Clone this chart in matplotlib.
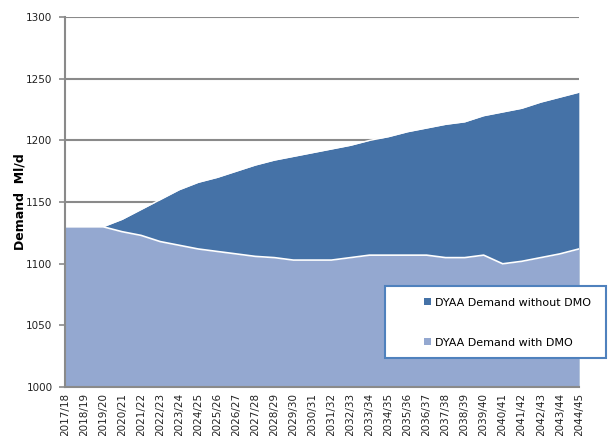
import matplotlib.pyplot as plt
import numpy as np
from matplotlib.patches import Patch, Rectangle

# years 2017/18 .. 2044/45
years = [f"{y}/{(y + 1) % 100:02d}" for y in range(2017, 2045)]

without_dmo = [1130, 1130, 1130, 1136, 1144, 1152, 1160, 1166, 1170, 1175,
               1180, 1184, 1187, 1190, 1193, 1196, 1200, 1203, 1207, 1210,
               1213, 1215, 1220, 1223, 1226, 1231, 1235, 1239]
with_dmo = [1130, 1130, 1130, 1126, 1123, 1118, 1115, 1112, 1110, 1108,
            1106, 1105, 1103, 1103, 1103, 1105, 1107, 1107, 1107, 1107,
            1105, 1105, 1107, 1100, 1102, 1105, 1108, 1112]

dark = '#4572A7'
light = '#94A8D0'

x = np.arange(len(years))

fig = plt.figure(figsize=(6.08, 4.36), dpi=100)
ax = fig.add_axes([0.107, 0.112, 0.845, 0.849])

ax.fill_between(x, 1000, without_dmo, color=dark, lw=0, zorder=2)
ax.plot(x, without_dmo, color='white', lw=1.0, zorder=3)
ax.fill_between(x, 1000, with_dmo, color=light, lw=0, zorder=4)
ax.plot(x, with_dmo, color='white', lw=1.2, zorder=5)

ax.set_xlim(0, len(years) - 1)
ax.set_ylim(1000, 1300)
ax.set_yticks(range(1000, 1301, 50))
ax.yaxis.grid(True, color='#8a8a8a', lw=1.5, zorder=1)
ax.set_axisbelow(True)

ax.set_xticks(x)
ax.set_xticklabels(years, rotation=90, fontsize=7.5, color='#222222')
ax.tick_params(axis='x', length=0, pad=4)
ax.tick_params(axis='y', length=4, color='#8a8a8a', width=1.2, labelsize=7.5,
               labelcolor='#222222', pad=5)

for s in ['top', 'right']:
    ax.spines[s].set_visible(False)
for s in ['left', 'bottom']:
    ax.spines[s].set_color('#8a8a8a')
    ax.spines[s].set_linewidth(1.5)
    ax.spines[s].set_zorder(6)

ax.set_ylabel('Demand  Ml/d', fontsize=9, fontweight='bold', labelpad=0)

# legend box
fig.patches.append(Rectangle((0.634, 0.179), 0.362, 0.165, transform=fig.transFigure,
                             facecolor='white', edgecolor='#4F81BD', lw=1.5, zorder=10))
handles = [Patch(facecolor=dark, edgecolor='none'), Patch(facecolor=light, edgecolor='none')]
leg = fig.legend(handles, ['DYAA Demand without DMO', 'DYAA Demand with DMO'],
                 loc='upper left', bbox_to_anchor=(0.688, 0.330), frameon=False,
                 fontsize=8, handlelength=0.6, handleheight=0.6, handletextpad=0.4,
                 labelspacing=2.7, borderpad=0)
leg.set_zorder(11)

fig.savefig('out.png', dpi=100)
